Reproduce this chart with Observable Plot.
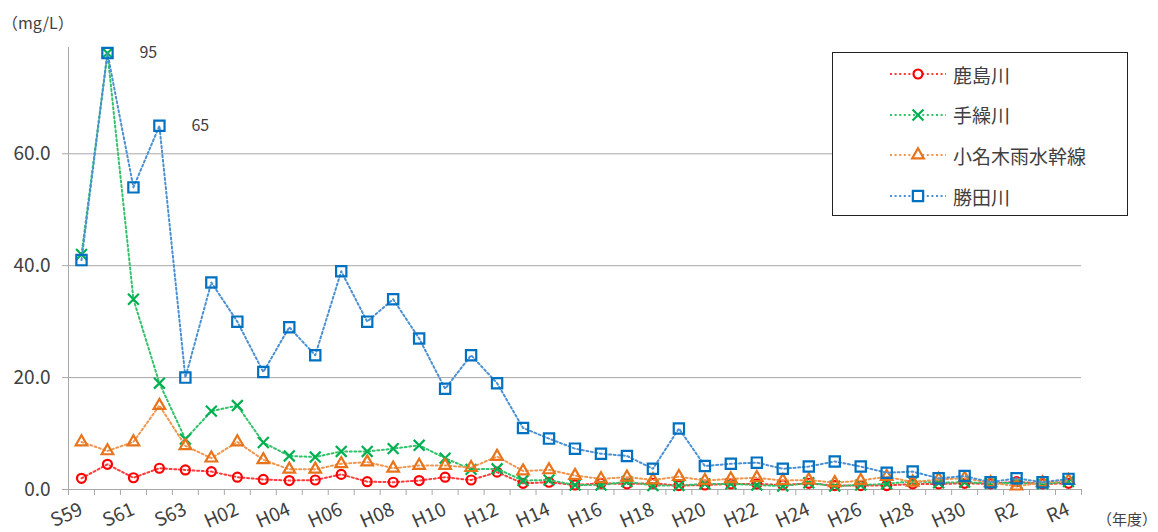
<!DOCTYPE html>
<html><head><meta charset="utf-8">
<script src="https://cdn.jsdelivr.net/npm/d3@7"></script>
<script src="https://cdn.jsdelivr.net/npm/@observablehq/plot@0.6"></script>
<style>
body{margin:0;background:#fff;font-family:"Noto Sans CJK JP","Noto Sans",sans-serif;}
#wrap{position:relative;width:1158px;height:532px;overflow:hidden;background:#fff;}
.ov{position:absolute;white-space:nowrap;color:#404040;}
#legend{position:absolute;left:832px;top:52px;width:296px;height:164px;border:1px solid #222;background:#fff;box-sizing:border-box;}
.lrow{position:absolute;left:57px;height:24px;display:flex;align-items:center;}
.lrow span{margin-left:6px;font-size:19px;color:#404040;}
</style></head><body><div id="wrap"></div>
<script>
const years = ["S59","S60","S61","S62","S63",
  "H01","H02","H03","H04","H05","H06","H07","H08","H09","H10",
  "H11","H12","H13","H14","H15","H16","H17","H18","H19","H20",
  "H21","H22","H23","H24","H25","H26","H27","H28","H29","H30",
  "R1","R2","R3","R4"];
const tickLabels = ["S59","S61","S63","H02","H04","H06","H08","H10","H12","H14","H16","H18","H20","H22","H24","H26","H28","H30","R2","R4"];
const seriesNames = ["鹿島川","手繰川","小名木雨水幹線","勝田川"];
const kashima = [2.0,4.5,2.1,3.8,3.5, 3.2,2.2,1.8,1.6,1.7,2.7,1.4,1.3,1.6,2.2, 1.7,3.1,1.1,1.3,0.8,1.1,1.0,1.1,0.7,0.8, 1.0,1.0,0.8,1.1,0.7,0.7,0.7,1.0,1.0,1.1, 1.0,1.4,1.0,1.1];
const taguri = [42,95,34,19,9.0, 14,15,8.4,6.0,5.8,6.8,6.8,7.3,7.9,5.6, 3.6,3.7,1.6,1.7,0.8,0.8,1.4,0.7,0.7,1.0, 1.0,0.8,0.6,1.2,0.6,0.8,1.0,1.5,1.2,1.3, 1.1,1.2,1.0,1.4];
const onagi = [8.5,6.9,8.5,15,7.8, 5.6,8.5,5.3,3.6,3.6,4.6,4.9,3.8,4.3,4.3, 3.9,5.9,3.3,3.5,2.5,1.9,2.2,1.7,2.3,1.6, 1.9,2.1,1.6,1.7,1.2,1.6,2.3,1.3,1.8,2.0, 1.2,0.6,1.2,1.6];
const katsuta = [41,95,54,65,20, 37,30,21,29,24,39,30,34,27,18, 24,19,11,9.1,7.3,6.4,6.0,3.7,10.9,4.2, 4.6,4.8,3.7,4.1,5.0,4.1,3.0,3.2,2.0,2.4, 1.3,2.0,1.3,1.9];
const yTicks = [0,20,40,60];
const annoYears = ["S60","S62"];
const annoValues = [95,65];

const yMax = 79, yCap = 78;
const seriesValues = [kashima, taguri, onagi, katsuta];
const looks = [
  {symbol:"circle",   marker:"#FF0000", line:"#FF3B3B", r:4.5},
  {symbol:"times",    marker:"#00B050", line:"#33C26A", r:5.0},
  {symbol:"triangle", marker:"#E8731A", line:"#F0964E", r:4.3},
  {symbol:"square",   marker:"#0070C0", line:"#4A90D2", r:5.8}
];
const rows = seriesNames.map((name,s) => years.map((yr,i) => ({series:name, year:yr, i, value:seriesValues[s][i]})));
const X = d => d.i + 0.5;
const Y = d => Math.min(d.value, yCap);

const marks = [
  Plot.ruleY(yTicks.filter(t => t > 0), {stroke:"#a8a8a8", strokeWidth:1}),
  Plot.ruleY([0], {stroke:"#a8a8a8", strokeWidth:1}),
  Plot.ruleX([0], {stroke:"#a8a8a8", strokeWidth:1}),
  Plot.axisY({ticks:yTicks, tickSize:6, tickPadding:12, tickFormat:d3.format(".1f"), stroke:"#a8a8a8", fill:"#404040", fontSize:19, label:null}),
  Plot.axisX({ticks:d3.range(years.length + 1), tickSize:6, tickFormat:() => "", stroke:"#a8a8a8", label:null}),
  Plot.axisX({ticks:tickLabels.map(t => years.indexOf(t) + 0.5), tickSize:0, tickPadding:19, tickRotate:-24,
              tickFormat:d => years[Math.round(d - 0.5)], fill:"#404040", fontSize:19, label:null})
];
rows.forEach((data,s) => {
  const L = looks[s];
  marks.push(Plot.line(data, {x:X, y:Y, stroke:L.line, strokeWidth:2, strokeDasharray:"2 2.6"}));
  marks.push(Plot.dot(data, {x:X, y:Y, symbol:L.symbol, r:L.r, stroke:L.marker, strokeWidth:2.2, fill:"none"}));
});
marks.push(Plot.text(annoYears.map((yr,k) => ({i:years.indexOf(yr), value:annoValues[k]})),
  {x:X, y:Y, text:d => String(d.value), textAnchor:"start", dx:32, fontSize:16, fill:"#404040"}));

const chart = Plot.plot({
  width:1158, height:532,
  marginLeft:68, marginRight:77, marginTop:47, marginBottom:43,
  x:{type:"linear", domain:[0, years.length]},
  y:{domain:[0, yMax]},
  style:{fontFamily:'"Noto Sans CJK JP","Noto Sans",sans-serif', fontSize:"19px", background:"white", overflow:"visible"},
  marks
});
const wrap = document.getElementById("wrap");
wrap.appendChild(chart);

const yl = document.createElement("div");
yl.className = "ov"; yl.textContent = "（mg/L）";
Object.assign(yl.style, {left:"2px", top:"10px", fontSize:"16px"});
wrap.appendChild(yl);
const xl = document.createElement("div");
xl.className = "ov"; xl.textContent = "（年度）";
Object.assign(xl.style, {left:"1097px", top:"508px", fontSize:"15px"});
wrap.appendChild(xl);

const legend = document.createElement("div");
legend.id = "legend";
wrap.appendChild(legend);
const symMap = {circle:d3.symbolCircle, times:d3.symbolTimes, triangle:d3.symbolTriangle, square:d3.symbolSquare};
seriesNames.forEach((name,s) => {
  const L = looks[s];
  const row = document.createElement("div");
  row.className = "lrow";
  row.style.top = (9 + s*40.7) + "px";
  const svg = d3.create("svg").attr("width",57).attr("height",24);
  svg.append("line").attr("x1",0).attr("x2",56).attr("y1",12).attr("y2",12)
    .attr("stroke",L.line).attr("stroke-width",2).attr("stroke-dasharray","2 2.6");
  svg.append("path").attr("transform","translate(28,12)")
    .attr("d", d3.symbol(symMap[L.symbol], L.r*L.r*Math.PI)())
    .attr("fill", L.symbol === "times" ? "none" : "#fff").attr("stroke",L.marker).attr("stroke-width",2.2);
  row.appendChild(svg.node());
  const sp = document.createElement("span");
  sp.textContent = name;
  row.appendChild(sp);
  legend.appendChild(row);
});
</script>
</body></html>
